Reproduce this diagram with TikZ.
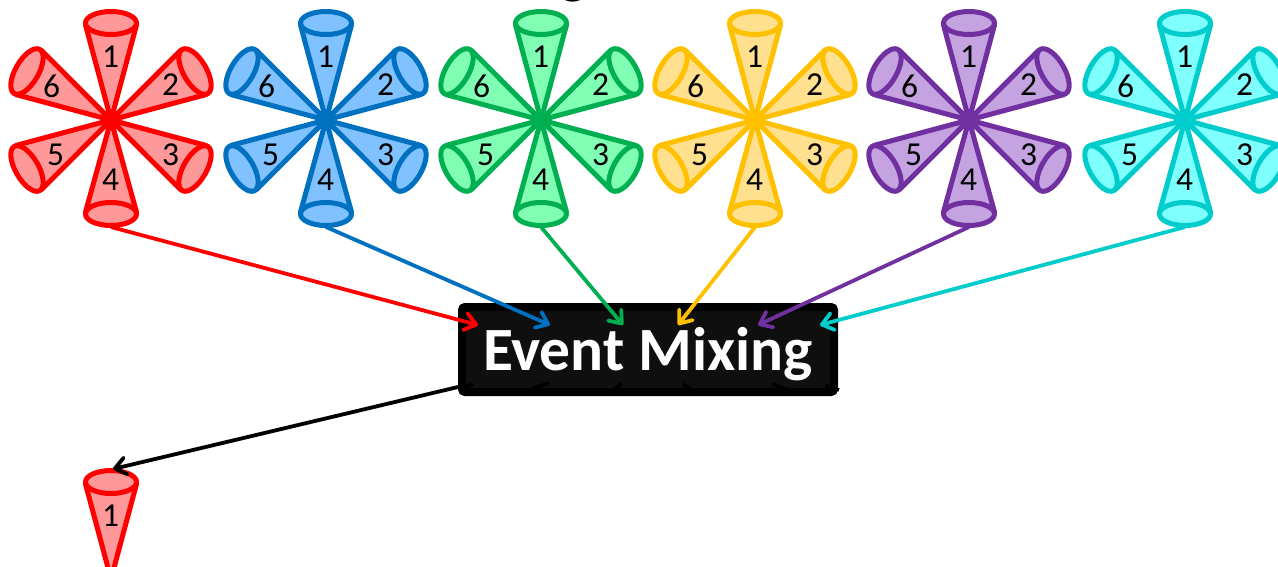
\documentclass[tikz,border=0pt]{standalone}
\usepackage{fontspec}
\setmainfont{Carlito}
\usetikzlibrary{arrows.meta}
\definecolor{redS}{HTML}{FF0000}\definecolor{redF}{HTML}{FF9999}
\definecolor{bluS}{HTML}{0070C0}\definecolor{bluF}{HTML}{80C1FF}
\definecolor{grnS}{HTML}{00B050}\definecolor{grnF}{HTML}{80FFB4}
\definecolor{ylwS}{HTML}{FFC000}\definecolor{ylwF}{HTML}{FFE08F}
\definecolor{purS}{HTML}{7030A0}\definecolor{purF}{HTML}{C5A2E0}
\definecolor{cynS}{HTML}{00CCCC}\definecolor{cynF}{HTML}{80FFFF}
\definecolor{mixF}{HTML}{0F0F0F}
\tikzset{
  conebody/.style={line width=5pt,line join=round},
  conenum/.style={font=\fontsize{33.5}{33.5}\selectfont,text=black,inner sep=0pt},
  feed/.style={line width=3.8pt,-{Straight Barb[length=11pt,width=17pt,round,line width=3.8pt]}},
  stub/.style={black,line width=3.5pt},
}
% One cone: apex at (#1,#2), mouth #6 away, turned #3 degrees clockwise from straight up
\newcommand{\onecone}[6]{%
  \begin{scope}[shift={(#1,#2)},rotate=-#3]
    \draw[conebody,draw=#4,fill=#5] (0,0) -- (-25.5,-#6+2) -- (25.5,-#6+2) -- cycle;
    \draw[conebody,draw=#4,fill=#5] (0,-#6) circle[x radius=25.5,y radius=11.5];
  \end{scope}}
% Fan of six numbered cones around (#2,120); the lower cone's mouth sits a little closer in
\newcommand{\conefan}[4]{%
  \foreach \k in {0,1,2,4,5}{\onecone{#2}{120}{\k*60}{#3}{#4}{97}}
  \onecone{#2}{120}{180}{#3}{#4}{94}
  \node[conenum] (#1-1) at (#2-0.5,57) {1};
  \node[conenum] (#1-2) at (#2+59.5,85) {2};
  \node[conenum] (#1-3) at (#2+59.5,155) {3};
  \node[conenum] (#1-4) at (#2-0.5,180) {4};
  \node[conenum] (#1-5) at (#2-55.5,155) {5};
  \node[conenum] (#1-6) at (#2-59.5,86) {6};
  \coordinate (#1-out) at (#2,227);}
\begin{document}
\begin{tikzpicture}[x=1pt,y=-1pt]
  \path[use as bounding box,clip] (0,0) rectangle (1278,566);
  \fill[white] (0,0) rectangle (1278,566);

  \conefan{red}{111}{redS}{redF}
  \conefan{blu}{326}{bluS}{bluF}
  \conefan{grn}{541}{grnS}{grnF}
  \conefan{ylw}{755}{ylwS}{ylwF}
  \conefan{pur}{969}{purS}{purF}
  \conefan{cyn}{1185}{cynS}{cynF}

  % Mixing box
  \node[draw=black,fill=mixF,line width=8pt,rounded corners=3pt,minimum width=372pt,minimum height=85pt,
        inner sep=0pt,outer sep=0pt,anchor=center] (mix) at (648,349.5) {};
  % Short black marks along the lower edge of the box
  \draw[stub] (462,388) -- (473,384);
  \draw[stub] (533,388) -- (550,383);
  \draw[stub] (615,388) -- (622,384);
  \draw[stub] (683,384) -- (689,388);
  \draw[stub] (772,384) -- (788,390);
  \draw[stub] (825,385) -- (839,390);
  \node[font=\bfseries\fontsize{61.5}{61.5}\selectfont,text=white,inner sep=0pt] (mixlabel) at (648,354) {Event Mixing};

  % Arrow ends on the box
  \coordinate (inred) at (478,325);
  \coordinate (inblu) at (550,325);
  \coordinate (ingrn) at (623,325);
  \coordinate (inylw) at (678,325);
  \coordinate (inpur) at (758,325);
  \coordinate (incyn) at (820,325);
  \coordinate (outmix) at (458,387);

  \draw[feed,redS] (red-out) -- (inred);
  \draw[feed,bluS] (blu-out) -- (inblu);
  \draw[feed,grnS] (grn-out) -- (ingrn);
  \draw[feed,ylwS] (ylw-out) -- (inylw);
  \draw[feed,purS] (pur-out) -- (inpur);
  \draw[feed,cynS] (cyn-out) -- (incyn);

  % Single output cone
  \onecone{111}{579}{0}{redS}{redF}{97}
  \node[conenum] (res-1) at (110.5,516) {1};
  \coordinate (resmouth) at (113,469);
  \draw[feed,black] (outmix) -- (resmouth);

  % Sliver of a cut-off glyph on the top edge
  \fill[black] (565,0) .. controls (569,2.2) and (576,2.2) .. (580,0) -- cycle;
\end{tikzpicture}
\end{document}
